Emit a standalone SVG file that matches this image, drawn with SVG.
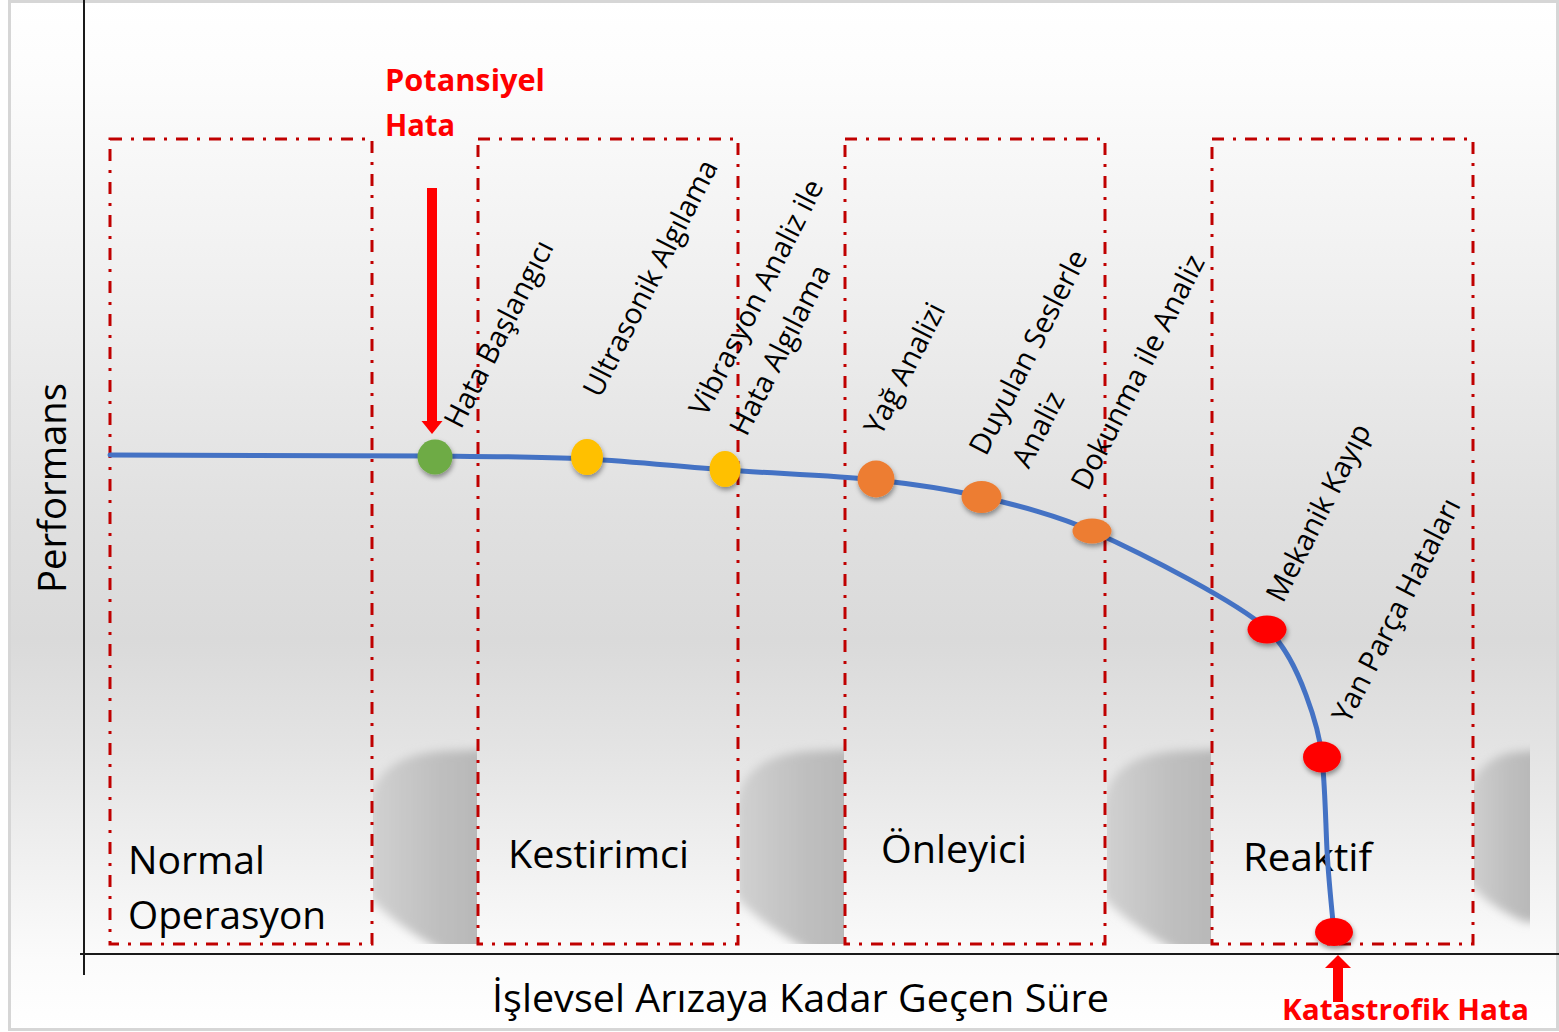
<svg xmlns="http://www.w3.org/2000/svg" width="1559" height="1032" viewBox="0 0 1559 1032">
<style>
.box{fill:none;stroke:#C00000;stroke-width:3;stroke-dasharray:12 9 3 9}
.lbl{font-family:"Open Sans","Noto Sans","Liberation Sans",sans-serif;font-size:29px;fill:#000}
.big{font-family:"Open Sans","Noto Sans","Liberation Sans",sans-serif;font-size:38px;fill:#000}
.red{font-family:"Open Sans","Noto Sans","Liberation Sans",sans-serif;font-weight:bold;fill:#FF0000}
.axis{stroke:#1a1a1a;stroke-width:2;fill:none}
.curve{fill:none;stroke:#4472C4;stroke-width:5;stroke-linecap:round}
.dot{filter:url(#ds)}
</style>
<defs>
<linearGradient id="bg" x1="0" y1="0" x2="0" y2="1032" gradientUnits="userSpaceOnUse">
<stop offset="0" stop-color="#ffffff"/>
<stop offset="0.08" stop-color="#fcfcfc"/>
<stop offset="0.3" stop-color="#eeeeee"/>
<stop offset="0.5" stop-color="#e0e0e0"/>
<stop offset="0.62" stop-color="#dadada"/>
<stop offset="0.72" stop-color="#e3e3e3"/>
<stop offset="0.85" stop-color="#f2f2f2"/>
<stop offset="0.93" stop-color="#fbfbfb"/>
<stop offset="1" stop-color="#ffffff"/>
</linearGradient>
<linearGradient id="sh" x1="0" y1="0" x2="1" y2="0">
<stop offset="0" stop-color="#d2d2d2"/>
<stop offset="0.5" stop-color="#c0c0c0"/>
<stop offset="1" stop-color="#b4b4b4"/>
</linearGradient>
<filter id="blur" x="-30%" y="-30%" width="160%" height="160%"><feGaussianBlur stdDeviation="5"/></filter>
<filter id="ds" x="-50%" y="-50%" width="200%" height="200%"><feDropShadow dx="1" dy="3" stdDeviation="2.5" flood-color="#000" flood-opacity="0.4"/></filter>
<clipPath id="g1"><rect x="373" y="700" width="104" height="244"/></clipPath>
<clipPath id="g2"><rect x="740" y="700" width="104" height="244"/></clipPath>
<clipPath id="g3"><rect x="1107" y="700" width="104" height="244"/></clipPath>
<clipPath id="g4"><rect x="1474" y="700" width="56" height="244"/></clipPath>
<path id="shp" d="M-5,805 C3,770 25,754 70,751 L125,749 L125,965 L100,965 C60,950 10,915 -5,895 Z"/>
</defs>

<g id="background">
<rect x="0" y="0" width="1559" height="1032" fill="#ffffff"/>
<rect x="9.5" y="1.5" width="1548" height="1028" fill="url(#bg)" stroke="#d6d6d6" stroke-width="3"/>
<g clip-path="url(#g1)"><use href="#shp" x="373" fill="url(#sh)" filter="url(#blur)"/></g>
<g clip-path="url(#g2)"><use href="#shp" x="740" fill="url(#sh)" filter="url(#blur)"/></g>
<g clip-path="url(#g3)"><use href="#shp" x="1107" fill="url(#sh)" filter="url(#blur)"/></g>
<g clip-path="url(#g4)"><path d="M1465,805 C1470,772 1490,755 1515,752 L1545,750 L1545,922 L1525,922 C1500,912 1475,893 1465,878 Z" fill="url(#sh)" filter="url(#blur)"/></g>
</g>

<g id="axes">
<line class="axis" x1="84" y1="0" x2="84" y2="975"/>
<line class="axis" x1="80" y1="954" x2="1559" y2="954"/>
<text class="big" transform="translate(66,488) rotate(-90)" text-anchor="middle" font-size="40" textLength="210" lengthAdjust="spacingAndGlyphs">Performans</text>
<text class="big" x="492" y="1012" font-size="37" textLength="617" lengthAdjust="spacingAndGlyphs">İşlevsel Arızaya Kadar Geçen Süre</text>
</g>

<g id="region-normal">
<rect class="box" x="110" y="139" width="262" height="805"/>
<text class="big" x="128" y="874" textLength="137" lengthAdjust="spacingAndGlyphs">Normal</text>
<text class="big" x="128" y="929" textLength="198" lengthAdjust="spacingAndGlyphs">Operasyon</text>
</g>
<g id="region-kestirimci">
<rect class="box" x="478" y="139" width="260" height="805"/>
<text class="big" x="508" y="868" textLength="181" lengthAdjust="spacingAndGlyphs">Kestirimci</text>
</g>
<g id="region-onleyici">
<rect class="box" x="845" y="139" width="260" height="805"/>
<text class="big" x="881" y="863" textLength="146" lengthAdjust="spacingAndGlyphs">Önleyici</text>
</g>
<g id="region-reaktif">
<rect class="box" x="1212" y="139" width="261" height="805"/>
<text class="big" x="1243" y="871" textLength="129" lengthAdjust="spacingAndGlyphs">Reaktif</text>
</g>

<g id="connectors">
<path class="curve" d="M110,455 L435,456 C514.3,456.7 537.7,456.7 586,459 C634.3,461.3 676.7,466.5 725,470 C773.3,473.5 833.2,475.5 876,480 C918.8,484.5 946,488.5 982,497 C1018,505.5 1057,515.3 1092,531 C1144.8,554.8 1237.4,602.2 1267,629 C1285.5,645.8 1297.3,671.5 1306,695 C1313.5,715 1319.9,735.7 1322,757 C1325.1,788 1325.5,819 1327,850 C1328.4,877.3 1331.3,904.7 1334,932"/>
<g id="arrow-potansiyel" fill="#FF0000">
<rect x="427" y="188" width="10" height="234"/>
<polygon points="421.5,421 442.5,421 432,434"/>
</g>
<g id="arrow-katastrofik" fill="#FF0000">
<rect x="1333" y="966" width="10" height="36"/>
<polygon points="1325,968 1351,968 1338,955"/>
</g>
</g>

<g id="label-potansiyel">
<text class="red" x="385" y="91" font-size="30" textLength="160" lengthAdjust="spacingAndGlyphs">Potansiyel</text>
<text class="red" x="385" y="136" font-size="30" textLength="70" lengthAdjust="spacingAndGlyphs">Hata</text>
</g>
<g id="label-katastrofik">
<text class="red" x="1282" y="1020" font-size="29" textLength="247" lengthAdjust="spacingAndGlyphs">Katastrofik Hata</text>
</g>

<g id="node-hata-baslangici">
<ellipse class="dot" cx="435" cy="457" rx="17.5" ry="17.5" fill="#6EAB44"/>
<text class="lbl" transform="translate(461,430) rotate(-63)">Hata Başlangıcı</text>
</g>
<g id="node-ultrasonik">
<ellipse class="dot" cx="587" cy="457" rx="16" ry="18" fill="#FFC000"/>
<text class="lbl" transform="translate(600,399) rotate(-63)">Ultrasonik Algılama</text>
</g>
<g id="node-vibrasyon">
<ellipse class="dot" cx="725" cy="469" rx="15.5" ry="18" fill="#FFC000"/>
<text class="lbl" transform="translate(706,418) rotate(-63)"><tspan x="0" y="0">Vibrasyon Analiz ile</tspan><tspan x="1" y="45">Hata Algılama</tspan></text>
</g>
<g id="node-yag">
<ellipse class="dot" cx="876" cy="479" rx="18.5" ry="18.5" fill="#ED7D31"/>
<text class="lbl" transform="translate(881,437) rotate(-63)">Yağ Analizi</text>
</g>
<g id="node-duyulan">
<ellipse class="dot" cx="981.5" cy="497" rx="20" ry="16" fill="#ED7D31"/>
<text class="lbl" transform="translate(986,457) rotate(-63)"><tspan x="0" y="0">Duyulan Seslerle</tspan><tspan x="8" y="44">Analiz</tspan></text>
</g>
<g id="node-dokunma">
<ellipse class="dot" cx="1092" cy="531" rx="19.5" ry="12.5" fill="#ED7D31"/>
<text class="lbl" transform="translate(1088,492) rotate(-63)">Dokunma ile Analiz</text>
</g>
<g id="node-mekanik">
<ellipse class="dot" cx="1267" cy="629.5" rx="19.5" ry="14" fill="#FF0000"/>
<text class="lbl" transform="translate(1283,604) rotate(-63)">Mekanik Kayıp</text>
</g>
<g id="node-yanparca">
<ellipse class="dot" cx="1322" cy="757" rx="19" ry="15.5" fill="#FF0000"/>
<text class="lbl" transform="translate(1349,725) rotate(-63)">Yan Parça Hataları</text>
</g>
<g id="node-katastrofik">
<ellipse class="dot" cx="1334" cy="932" rx="19" ry="14" fill="#FF0000"/>
</g>
</svg>
